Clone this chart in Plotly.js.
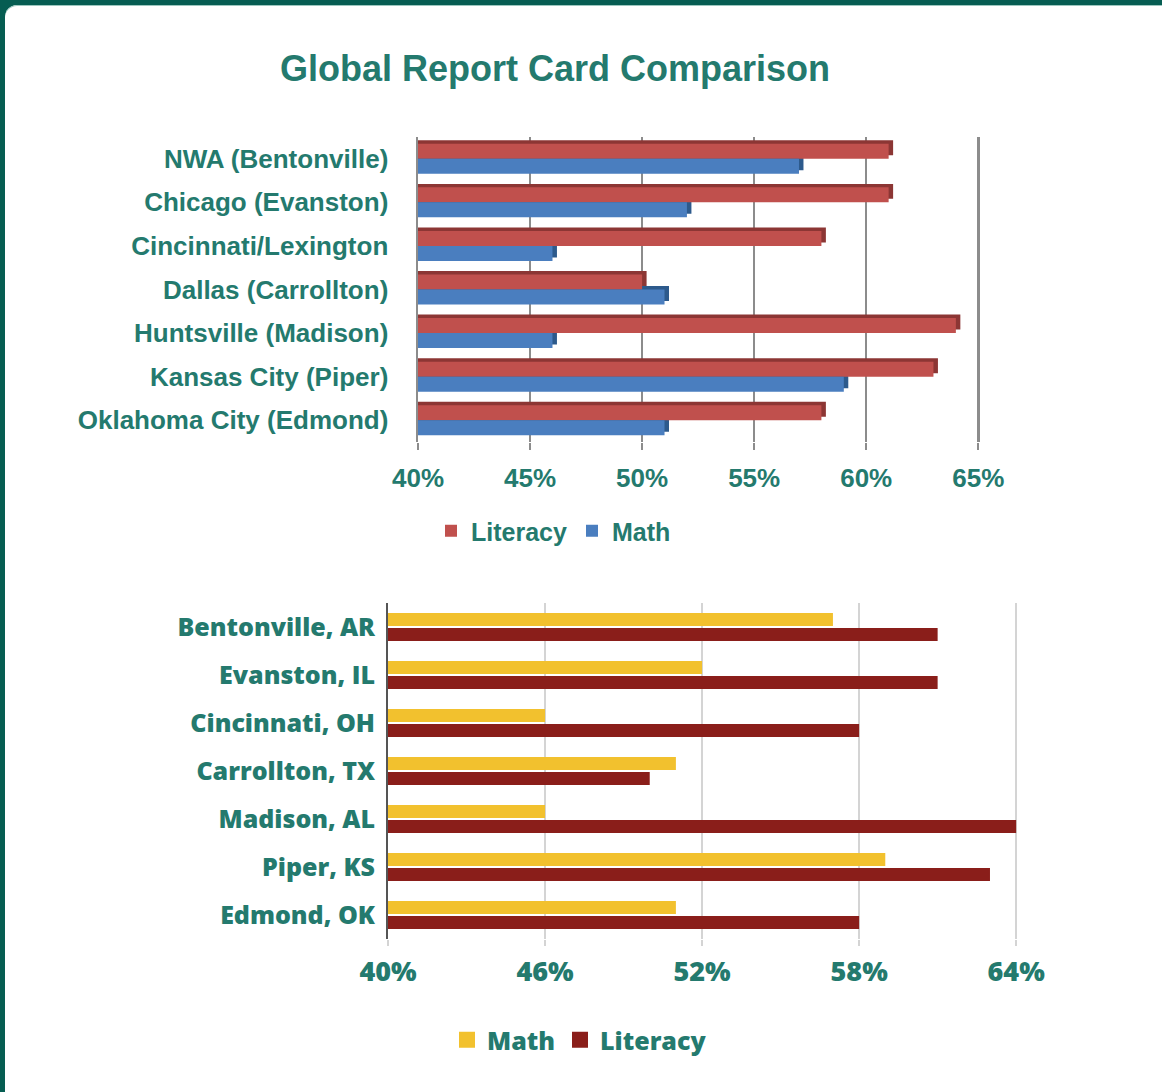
<!DOCTYPE html>
<html>
<head>
<meta charset="utf-8">
<script src="https://cdn.plot.ly/plotly-3.0.1.min.js"></script>
<style>
  html, body { margin: 0; padding: 0; }
  body { width: 1162px; height: 1092px; background: #065d52; overflow: hidden; position: relative; }
  #card {
    position: absolute; left: 5px; top: 5px; width: 1200px; height: 1150px;
    background: #ffffff; border-top-left-radius: 12px;
    box-shadow: inset 0 1px 0 #9cc7bf;
  }
  #chart { position: absolute; left: 0; top: 0; width: 1162px; height: 1092px; }
</style>
</head>
<body>
<div id="card"></div>
<div id="chart"></div>
<script>
// data
var topCities = ['NWA (Bentonville)', 'Chicago (Evanston)', 'Cincinnati/Lexington',
    'Dallas (Carrollton)', 'Huntsville (Madison)', 'Kansas City (Piper)', 'Oklahoma City (Edmond)'];
var bottomCities = ['Bentonville, AR', 'Evanston, IL', 'Cincinnati, OH', 'Carrollton, TX',
    'Madison, AL', 'Piper, KS', 'Edmond, OK'];
var literacy = [61, 61, 58, 50, 64, 63, 58];
var math = [57, 52, 46, 51, 46, 59, 51];
var topTicks = [40, 45, 50, 55, 60, 65];
var bottomTicks = [40, 46, 52, 58, 64];

var W = 1162, H = 1092;
var teal = '#247a6e';
var arial = '"Liberation Sans", Arial, sans-serif';
var gill = '"Open Sans", Lato, sans-serif';

function px(x) { return x / W; }
function py(y) { return 1 - y / H; }
function pct(arr) { return arr.map(function (v) { return v + '%'; }); }

// 3d look: a darker copy of each bar, nudged up and to the right, sits behind it
var depth = 0.2, lift = 0.08;
function shifted(arr) { return arr.map(function (v) { return v + depth; }); }

var data = [
    {type: 'bar', orientation: 'h', y: topCities, x: shifted(literacy), offset: -0.344 - lift, width: 0.344,
     marker: {color: '#8c3634'}, showlegend: false, hoverinfo: 'skip', xaxis: 'x', yaxis: 'y'},
    {type: 'bar', orientation: 'h', y: topCities, x: shifted(math), offset: -lift, width: 0.344,
     marker: {color: '#2d5a8c'}, showlegend: false, hoverinfo: 'skip', xaxis: 'x', yaxis: 'y'},
    {type: 'bar', orientation: 'h', name: 'Literacy', y: topCities, x: literacy, offset: -0.344, width: 0.344,
     marker: {color: '#c0504d'}, xaxis: 'x', yaxis: 'y', legend: 'legend'},
    {type: 'bar', orientation: 'h', name: 'Math', y: topCities, x: math, offset: 0, width: 0.344,
     marker: {color: '#4a7ebf'}, xaxis: 'x', yaxis: 'y', legend: 'legend'},

    {type: 'bar', orientation: 'h', y: bottomCities, x: math, offset: -0.29, width: 0.27,
     marker: {color: '#f2c12e'}, showlegend: false, xaxis: 'x2', yaxis: 'y2'},
    {type: 'bar', orientation: 'h', y: bottomCities, x: literacy, offset: 0.02, width: 0.27,
     marker: {color: '#8a1e1a'}, showlegend: false, xaxis: 'x2', yaxis: 'y2'},
    // legend entries for the lower chart (bigger squares)
    {type: 'scatter', mode: 'markers', name: 'Math', x: [null], y: [null],
     marker: {symbol: 'square', size: 16, color: '#f2c12e'}, xaxis: 'x2', yaxis: 'y2', legend: 'legend2'},
    {type: 'scatter', mode: 'markers', name: 'Literacy', x: [null], y: [null],
     marker: {symbol: 'square', size: 16, color: '#8a1e1a'}, xaxis: 'x2', yaxis: 'y2', legend: 'legend2'}
];

var layout = {
    width: W, height: H,
    margin: {l: 0, r: 0, t: 0, b: 0},
    paper_bgcolor: 'rgba(0,0,0,0)',
    plot_bgcolor: 'rgba(0,0,0,0)',
    barmode: 'overlay',
    title: {text: 'Global Report Card Comparison', x: px(555), y: py(68), xref: 'paper', yref: 'paper',
            xanchor: 'center', yanchor: 'middle', font: {family: arial, size: 36, color: teal, weight: 'bold'}},
    xaxis: {domain: [px(418), px(985)], range: [40, 65.3], tickvals: topTicks, ticktext: pct(topTicks),
            showgrid: true, gridcolor: '#8c8c8c', gridwidth: 2.5, zeroline: false,
            ticks: 'outside', ticklen: 7, tickwidth: 2, tickcolor: '#8c8c8c', ticklabelstandoff: 6,
            tickfont: {family: arial, size: 26, color: teal, weight: 'bold'}, anchor: 'y', fixedrange: true},
    yaxis: {domain: [py(442), py(137)], type: 'category', autorange: 'reversed',
            showline: true, linecolor: '#8c8c8c', linewidth: 2.5, ticks: '', ticklabelstandoff: 22,
            tickfont: {family: arial, size: 26, color: teal, weight: 'bold'}, anchor: 'x', fixedrange: true},
    xaxis2: {domain: [px(388), px(1024)], range: [40, 64.3], tickvals: bottomTicks, ticktext: pct(bottomTicks),
             showgrid: true, gridcolor: '#d4d4d4', gridwidth: 2, zeroline: false,
             ticks: 'outside', ticklen: 6, tickwidth: 2, tickcolor: '#d4d4d4', ticklabelstandoff: 3,
             tickfont: {family: gill, size: 27, color: teal, weight: 800}, anchor: 'y2', fixedrange: true},
    yaxis2: {domain: [py(939), py(603)], type: 'category', autorange: 'reversed',
             showline: true, linecolor: '#555555', linewidth: 2, ticks: '', ticklabelstandoff: 6,
             tickfont: {family: gill, size: 25, color: teal, weight: 800}, anchor: 'x2', fixedrange: true},
    legend: {orientation: 'h', x: px(431), y: py(531), xanchor: 'left', yanchor: 'middle',
             bgcolor: 'rgba(0,0,0,0)', font: {family: arial, size: 25, color: teal, weight: 'bold'}},
    legend2: {orientation: 'h', x: px(447), y: py(1040), xanchor: 'left', yanchor: 'middle',
              bgcolor: 'rgba(0,0,0,0)', font: {family: gill, size: 25, color: teal, weight: 800}}
};

Plotly.newPlot('chart', data, layout, {displayModeBar: false, staticPlot: true});
</script>
</body>
</html>
